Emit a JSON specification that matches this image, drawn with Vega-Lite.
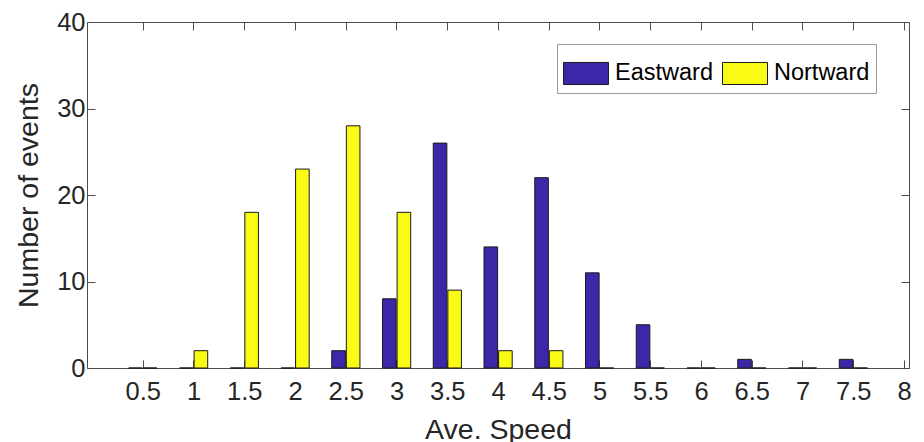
{
  "$schema": "https://vega.github.io/schema/vega-lite/v6.json",
  "width": 822,
  "height": 346,
  "autosize": {"type": "none"},
  "padding": {"left": 87, "top": 22, "right": 15, "bottom": 74},
  "background": "white",
  "config": {
    "view": {"stroke": null},
    "font": "Liberation Sans",
    "axis": {
      "labelFont": "Liberation Sans",
      "labelFontSize": 25.5,
      "labelColor": "#262626",
      "titleFont": "Liberation Sans",
      "titleFontSize": 28.5,
      "titleFontWeight": "normal",
      "titleColor": "#262626",
      "domainColor": "#4d4d4d",
      "domainWidth": 1,
      "tickColor": "#4d4d4d",
      "tickSize": -8,
      "grid": false
    },
    "legend": {
      "labelFont": "Liberation Sans",
      "labelFontSize": 23.5,
      "labelColor": "#000000"
    }
  },
  "data": {
    "values": [
      {"speed": 0.5, "dir": "Eastward", "n": 0},
      {"speed": 1.0, "dir": "Eastward", "n": 0},
      {"speed": 1.5, "dir": "Eastward", "n": 0},
      {"speed": 2.0, "dir": "Eastward", "n": 0},
      {"speed": 2.5, "dir": "Eastward", "n": 2},
      {"speed": 3.0, "dir": "Eastward", "n": 8},
      {"speed": 3.5, "dir": "Eastward", "n": 26},
      {"speed": 4.0, "dir": "Eastward", "n": 14},
      {"speed": 4.5, "dir": "Eastward", "n": 22},
      {"speed": 5.0, "dir": "Eastward", "n": 11},
      {"speed": 5.5, "dir": "Eastward", "n": 5},
      {"speed": 6.0, "dir": "Eastward", "n": 0},
      {"speed": 6.5, "dir": "Eastward", "n": 1},
      {"speed": 7.0, "dir": "Eastward", "n": 0},
      {"speed": 7.5, "dir": "Eastward", "n": 1},
      {"speed": 0.5, "dir": "Nortward", "n": 0},
      {"speed": 1.0, "dir": "Nortward", "n": 2},
      {"speed": 1.5, "dir": "Nortward", "n": 18},
      {"speed": 2.0, "dir": "Nortward", "n": 23},
      {"speed": 2.5, "dir": "Nortward", "n": 28},
      {"speed": 3.0, "dir": "Nortward", "n": 18},
      {"speed": 3.5, "dir": "Nortward", "n": 9},
      {"speed": 4.0, "dir": "Nortward", "n": 2},
      {"speed": 4.5, "dir": "Nortward", "n": 2},
      {"speed": 5.0, "dir": "Nortward", "n": 0},
      {"speed": 5.5, "dir": "Nortward", "n": 0},
      {"speed": 6.0, "dir": "Nortward", "n": 0},
      {"speed": 6.5, "dir": "Nortward", "n": 0},
      {"speed": 7.0, "dir": "Nortward", "n": 0},
      {"speed": 7.5, "dir": "Nortward", "n": 0}
    ]
  },
  "resolve": {"axis": {"x": "independent", "y": "independent"}},
  "layer": [
    {
      "transform": [{"filter": "datum.dir === 'Eastward'"}],
      "mark": {"type": "bar", "width": 13.6, "xOffset": -7.2, "stroke": "#1a1a1a", "strokeWidth": 1},
      "encoding": {
        "x": {
          "field": "speed", "type": "quantitative",
          "scale": {"domain": [0, 8], "nice": false, "zero": false},
          "axis": {
            "orient": "bottom",
            "values": [0.5, 1, 1.5, 2, 2.5, 3, 3.5, 4, 4.5, 5, 5.5, 6, 6.5, 7, 7.5, 8],
            "format": ".1~f",
            "labelPadding": 19,
            "title": "Ave. Speed",
            "titleBaseline": "alphabetic",
            "titleY": 70
          }
        },
        "y": {
          "field": "n", "type": "quantitative",
          "scale": {"domain": [0, 40], "nice": false},
          "axis": {
            "orient": "left",
            "values": [0, 10, 20, 30, 40],
            "labelPadding": 10,
            "title": "Number of events",
            "titleBaseline": "alphabetic",
            "titleX": -50
          }
        },
        "color": {
          "field": "dir", "type": "nominal",
          "scale": {"domain": ["Eastward", "Nortward"], "range": ["#3E26A8", "#F9FB15"]},
          "legend": {
            "orient": "none",
            "legendX": 470,
            "legendY": 22,
            "direction": "horizontal",
            "title": null,
            "strokeColor": "#9a9a9a",
            "fillColor": "#ffffff",
            "padding": 6,
            "symbolType": "M-1,-0.49H1V0.49H-1Z",
            "symbolSize": 2025,
            "symbolStrokeColor": "#1a1a1a",
            "symbolStrokeWidth": 1,
            "symbolOpacity": 1,
            "labelOffset": 6,
            "columnPadding": 7
          }
        }
      }
    },
    {
      "transform": [{"filter": "datum.dir === 'Nortward'"}],
      "mark": {"type": "bar", "width": 13.6, "xOffset": 7.4, "stroke": "#1a1a1a", "strokeWidth": 1},
      "encoding": {
        "x": {"field": "speed", "type": "quantitative", "axis": null},
        "y": {"field": "n", "type": "quantitative", "axis": null},
        "color": {"field": "dir", "type": "nominal"}
      }
    },
    {
      "mark": {"type": "point", "opacity": 0},
      "encoding": {
        "x": {
          "field": "speed", "type": "quantitative",
          "axis": {
            "orient": "top",
            "values": [0.5, 1, 1.5, 2, 2.5, 3, 3.5, 4, 4.5, 5, 5.5, 6, 6.5, 7, 7.5, 8],
            "labels": false,
            "title": null
          }
        },
        "y": {
          "field": "n", "type": "quantitative",
          "axis": {
            "orient": "right",
            "values": [0, 10, 20, 30, 40],
            "labels": false,
            "title": null
          }
        }
      }
    }
  ]
}
